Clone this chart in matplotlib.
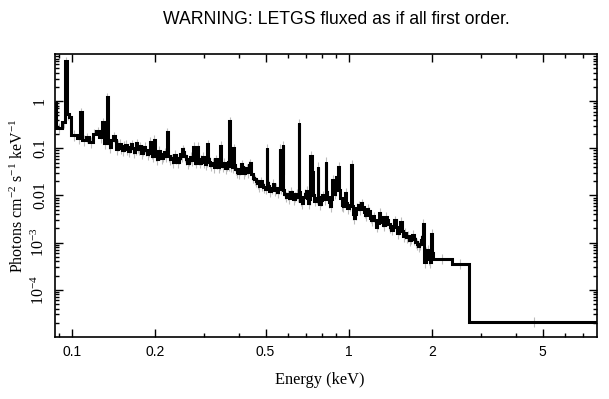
import matplotlib
matplotlib.use("Agg")
import matplotlib.pyplot as plt
import numpy as np
from matplotlib.ticker import FixedLocator, NullFormatter, LogLocator

plt.rcParams["mathtext.fontset"] = "custom"
plt.rcParams["mathtext.rm"] = "Liberation Serif"
plt.rcParams["mathtext.it"] = "Liberation Serif:italic"

# lower edge of each bin (keV)
bin_lo = [0.0847, 0.0872, 0.0920, 0.0947, 0.0959, 0.0975, 0.0992, 0.1042,
          0.1073, 0.1087, 0.1123, 0.1151, 0.1190, 0.1221, 0.1252, 0.1284,
          0.1305, 0.1332,
          0.1349, 0.1366, 0.1383, 0.1406, 0.1424, 0.1442, 0.1460, 0.1478,
          0.1497, 0.1516, 0.1535, 0.1554, 0.1573, 0.1593, 0.1613, 0.1633,
          0.1653, 0.1674, 0.1688, 0.1703, 0.1717, 0.1731, 0.1753, 0.1775,
          0.1797, 0.1819, 0.1842, 0.1865, 0.1885, 0.1905, 0.1929, 0.1949,
          0.1969, 0.1994, 0.2019, 0.2044, 0.2070, 0.2096, 0.2122, 0.2149,
          0.2171, 0.2194, 0.2222, 0.2250, 0.2278, 0.2306, 0.2335, 0.2364,
          0.2394, 0.2424, 0.2454, 0.2475, 0.2495, 0.2516, 0.2537, 0.2569,
          0.2601, 0.2634, 0.2667, 0.2700, 0.2734, 0.2757, 0.2780, 0.2809,
          0.2838, 0.2856, 0.2874, 0.2910, 0.2946, 0.2984, 0.3021, 0.3053,
          0.3084, 0.3103, 0.3123, 0.3162, 0.3201, 0.3242, 0.3283, 0.3324,
          0.3365, 0.3400, 0.3436, 0.3458, 0.3479, 0.3523, 0.3567, 0.3612,
          0.3657, 0.3680, 0.3703, 0.3727, 0.3750, 0.3789, 0.3828, 0.3853,
          0.3877, 0.3926, 0.3975, 0.4025, 0.4075, 0.4110, 0.4144, 0.4196,
          0.4248, 0.4301, 0.4355, 0.4391, 0.4428, 0.4484, 0.4540, 0.4597,
          0.4655, 0.4713, 0.4772, 0.4832, 0.4893, 0.4965, 0.5037, 0.5068,
          0.5100, 0.5164, 0.5229, 0.5295, 0.5361, 0.5429, 0.5497, 0.5555,
          0.5612, 0.5648, 0.5683, 0.5719, 0.5754, 0.5790, 0.5826, 0.5899,
          0.5973, 0.6048, 0.6124, 0.6201, 0.6279, 0.6358, 0.6437, 0.6505,
          0.6573, 0.6614, 0.6655, 0.6739, 0.6823, 0.6909, 0.6995, 0.7053,
          0.7112, 0.7186, 0.7261, 0.7322, 0.7383, 0.7430, 0.7476, 0.7586,
          0.7697, 0.7745, 0.7794, 0.7892, 0.7991, 0.8109, 0.8227, 0.8278,
          0.8330, 0.8435, 0.8540, 0.8629, 0.8718, 0.8773, 0.8829, 0.8921,
          0.9013, 0.9070, 0.9127, 0.9203, 0.9279, 0.9396, 0.9513, 0.9593,
          0.9674, 0.9754, 0.9835, 1.0021, 1.0210, 1.0273, 1.0337, 1.0424,
          1.0512, 1.0643, 1.0776, 1.0911, 1.1048, 1.1187, 1.1327, 1.1469,
          1.1612, 1.1758, 1.1906, 1.2055, 1.2206, 1.2360, 1.2515, 1.2672,
          1.2830, 1.2992, 1.3155, 1.3322, 1.3490, 1.3660, 1.3830, 1.4004,
          1.4178, 1.4358, 1.4538, 1.4721, 1.4905, 1.5093, 1.5281, 1.5473,
          1.5666, 1.5864, 1.6063, 1.6265, 1.6468, 1.6675, 1.6883, 1.7096,
          1.7310, 1.7528, 1.7746, 1.7969, 1.8193, 1.8345, 1.8498, 1.8614,
          1.8730, 1.8926, 1.9122, 1.9363, 1.9604, 1.9727, 1.9850, 1.9974,
          2.0098, 2.3540, 2.7123]
e_max = 8.0

# photons cm^-2 s^-1 keV^-1 for each bin
flux = [0.907, 0.269, 0.360, 7.0, 0.531, 0.459, 0.191, 0.165,
        0.585, 0.150, 0.173, 0.136, 0.201, 0.232, 0.173, 0.360,
        0.129, 1.215,
        0.128, 0.105, 0.150, 0.180, 0.150, 0.095, 0.118, 0.125,
        0.100, 0.090, 0.112, 0.120, 0.098, 0.088, 0.108, 0.122,
        0.100, 0.085, 0.098, 0.129, 0.105, 0.095, 0.110, 0.078,
        0.092, 0.108, 0.090, 0.075, 0.088, 0.136, 0.078, 0.068,
        0.150, 0.072, 0.060, 0.088, 0.075, 0.062, 0.070, 0.082,
        0.068, 0.221, 0.070, 0.058, 0.062, 0.052, 0.072, 0.062,
        0.052, 0.062, 0.075, 0.068, 0.095, 0.085, 0.070, 0.060,
        0.048, 0.056, 0.066, 0.056, 0.107, 0.058, 0.050, 0.064,
        0.107, 0.060, 0.050, 0.058, 0.066, 0.052, 0.046, 0.054,
        0.123, 0.060, 0.052, 0.044, 0.050, 0.040, 0.058, 0.048,
        0.040, 0.046, 0.112, 0.050, 0.042, 0.050, 0.038, 0.044,
        0.052, 0.045, 0.378, 0.042, 0.050, 0.040, 0.101, 0.045,
        0.036, 0.032, 0.030, 0.036, 0.046, 0.040, 0.030, 0.034,
        0.038, 0.032, 0.044, 0.048, 0.028, 0.024, 0.022, 0.020,
        0.018, 0.016, 0.020, 0.017, 0.015, 0.014, 0.101, 0.018,
        0.016, 0.0125, 0.0145, 0.0175, 0.013, 0.0145, 0.012, 0.014,
        0.097, 0.016, 0.0145, 0.030, 0.117, 0.013, 0.011, 0.0095,
        0.0105, 0.0088, 0.012, 0.0105, 0.0085, 0.0095, 0.011, 0.0095,
        0.343, 0.012, 0.0078, 0.0070, 0.0095, 0.0110, 0.0125, 0.0090,
        0.0068, 0.0085, 0.069, 0.030, 0.0316, 0.0100, 0.0078, 0.0090,
        0.0403, 0.0095, 0.0066, 0.0080, 0.0100, 0.0085, 0.0513, 0.0120,
        0.0095, 0.0072, 0.0060, 0.0085, 0.0214, 0.0140, 0.0110, 0.0130,
        0.0247, 0.0200, 0.0403, 0.0130, 0.0090, 0.0062, 0.0060, 0.0075,
        0.0114, 0.0070, 0.0055, 0.0062, 0.0444, 0.0060, 0.0040, 0.0033,
        0.0040, 0.0055, 0.0062, 0.0052, 0.0068, 0.0058, 0.0045, 0.0038,
        0.0052, 0.0046, 0.0034, 0.0030, 0.0036, 0.0030, 0.0022, 0.0026,
        0.0043, 0.0035, 0.0028, 0.0024, 0.0035, 0.0030, 0.0025, 0.0021,
        0.0019, 0.0023, 0.0030, 0.0022, 0.0016, 0.0019, 0.0028, 0.0018,
        0.0014, 0.0016, 0.0013, 0.0014, 0.00115, 0.00125, 0.00147, 0.0012,
        0.00105, 0.00095, 0.00086, 0.00092, 0.00115, 0.0013, 0.0025, 0.0008,
        0.00039, 0.00065, 0.00071, 0.00045, 0.00039, 0.00050, 0.00154, 0.00060,
        0.00046, 0.00036, 2.13e-5]

rel_err = 0.25

fig = plt.figure(figsize=(6.09, 3.99), dpi=100)
ax = fig.add_axes([0.0903, 0.1554, 0.8900, 0.7093])

e = np.array(bin_lo + [e_max])
f = np.array(flux)
centers = np.sqrt(e[:-1] * e[1:])
ax.vlines(centers, f * (1 - rel_err), f * (1 + rel_err), color="#bdbdbd", lw=0.8, zorder=1)
ax.stairs(f, e, color="black", lw=2.2, zorder=2)

ax.set_xscale("log")
ax.set_yscale("log")
ax.set_xlim(0.0868, 7.86)
ax.set_ylim(1e-5, 10)

xmajor = [0.1, 0.2, 0.5, 1, 2, 5]
xlabels = ["0.1", "0.2", "0.5", "1", "2", "5"]
xminor = [0.09, 0.3, 0.4, 0.6, 0.7, 0.8, 0.9, 3, 4, 6, 7]
ax.xaxis.set_major_locator(FixedLocator(xmajor))
ax.xaxis.set_minor_locator(FixedLocator(xminor))
ax.xaxis.set_minor_formatter(NullFormatter())
ax.set_xticklabels(xlabels, family="Liberation Sans", fontsize=10)

ymajor = [1e-4, 1e-3, 1e-2, 0.1, 1]
ylabels = ["$10^{-4}$", "$10^{-3}$", "0.01", "0.1", "1"]
ax.yaxis.set_major_locator(FixedLocator(ymajor))
ax.yaxis.set_minor_locator(LogLocator(base=10, subs=np.arange(2, 10), numticks=20))
ax.yaxis.set_minor_formatter(NullFormatter())
ax.set_yticklabels(ylabels, family="Liberation Serif", fontsize=11.5,
                   rotation=90, va="center")

ax.tick_params(which="both", direction="in", top=True, right=True, width=1.0)
ax.tick_params(which="major", length=6)
ax.tick_params(which="minor", length=3)
ax.tick_params(axis="x", pad=6)
ax.tick_params(axis="y", pad=5)
for s in ax.spines.values():
    s.set_linewidth(1.2)

ax.set_xlabel("Energy (keV)", family="Liberation Serif", fontsize=11.8)
ax.xaxis.set_label_coords(0.489, -0.125)
ax.set_ylabel("Photons cm$^{-2}$ s$^{-1}$ keV$^{-1}$", family="Liberation Serif",
              fontsize=11.5, labelpad=3)

fig.text(0.552, 0.952, "WARNING: LETGS fluxed as if all first order.",
         family="Liberation Sans", fontsize=12.7, ha="center", va="center")

fig.savefig("out.png", dpi=100)
